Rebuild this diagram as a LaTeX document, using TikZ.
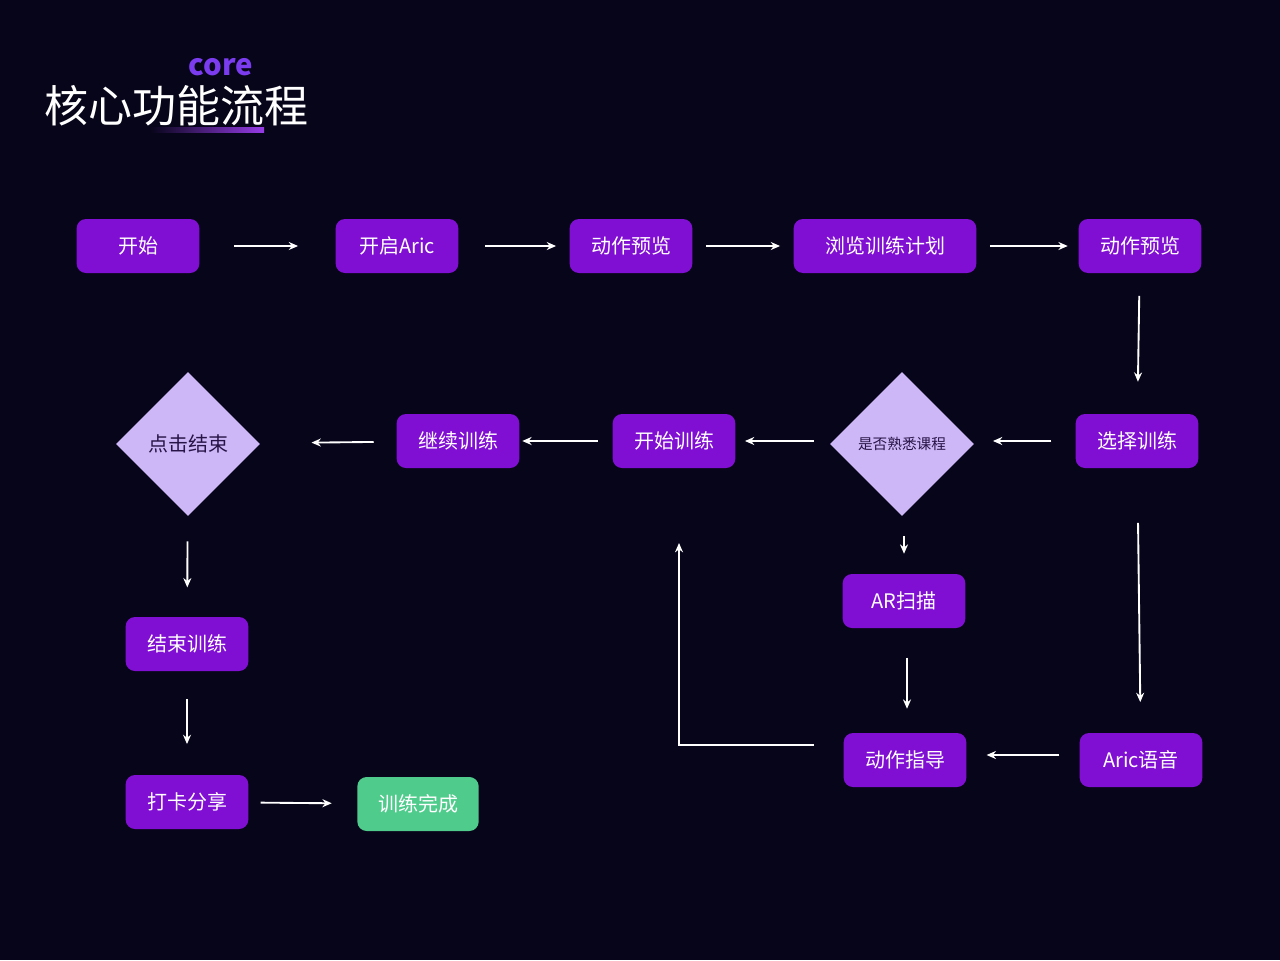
\documentclass[tikz,border=0pt]{standalone}
\usepackage{fontspec}
\newfontfamily\cjk{Noto Sans CJK SC}
\usetikzlibrary{arrows.meta,shapes.geometric}
\definecolor{bg}{HTML}{07051A}
\definecolor{box}{HTML}{810FD3}
\definecolor{dia}{HTML}{CDB7F7}
\definecolor{grn}{HTML}{4FCB8C}
\definecolor{corec}{HTML}{7B3CF0}
\begin{document}
\begin{tikzpicture}[x=0.75pt,y=-0.75pt,
 box/.style={draw=none,fill=box,rounded corners=7pt,minimum height=40.5pt,text=white,font=\cjk\fontsize{15}{15}\selectfont,inner sep=0pt},
 dia/.style={diamond,fill=dia,minimum width=108pt,minimum height=108pt,inner sep=0pt,text={rgb,255:red,40;green,20;blue,70}},
 ar/.style={draw=white,line width=1.4pt,-{Stealth[length=7pt,width=6pt]}}]
\fill[bg] (0,0) rectangle (1280,960);
\useasboundingbox (0,0) rectangle (1280,960);
% title
\node[anchor=west,text=white,font=\cjk\fontsize{33}{33}\selectfont,inner sep=0pt] (title) at (44,106) {核心功能流程};
\node[text=corec,font=\cjk\bfseries\fontsize{22}{22}\selectfont,inner sep=0pt] (core) at (221,67) {core};
\shade[left color=bg,right color={rgb,255:red,150;green,60;blue,230}] (150,127) rectangle (264,132);
% nodes
\node[box,minimum width=92pt] (n1) at (138,246) {开始};
\node[box,minimum width=92pt] (n2) at (397,246) {开启Aric};
\node[box,minimum width=92pt] (n3) at (631,246) {动作预览};
\node[box,minimum width=137pt] (n4) at (885,246) {浏览训练计划};
\node[box,minimum width=92pt] (n5) at (1140,246) {动作预览};
\node[box,minimum width=92pt] (n6) at (1137,441) {选择训练};
\node[dia,font=\cjk\fontsize{11}{11}\selectfont] (d1) at (902,444) {是否熟悉课程};
\node[box,minimum width=92pt] (n7) at (674,441) {开始训练};
\node[box,minimum width=92pt] (n8) at (458,441) {继续训练};
\node[dia,font=\cjk\fontsize{15}{15}\selectfont] (d2) at (188,444) {点击结束};
\node[box,minimum width=92pt] (n9) at (187,644) {结束训练};
\node[box,minimum width=92pt] (n10) at (187,802) {打卡分享};
\node[box,minimum width=91pt,fill=grn] (n11) at (418,804) {训练完成};
\node[box,minimum width=92pt] (n12) at (904,601) {AR扫描};
\node[box,minimum width=92pt] (n13) at (905,760) {动作指导};
\node[box,minimum width=92pt] (n14) at (1141,760) {Aric语音};
\coordinate (c1) at (679,745);
\coordinate (c2) at (679,543);
% arrows
\draw[ar,shorten <=26,shorten >=28] (n1) -- (n2);
\draw[ar,shorten <=20,shorten >=10] (n2) -- (n3);
\draw[ar,shorten <=10,shorten >=10] (n3) -- (n4);
\draw[ar,shorten <=10,shorten >=8] (n4) -- (n5);
\draw[ar,shorten <=17,shorten >=24] (n5) -- (n6);
\draw[ar,shorten <=18,shorten >=14] (n6.west) -- (d1.east |- n6.west);
\draw[ar,shorten <=12,shorten >=7] (d1.west |- n7.east) -- (n7);
\draw[ar,shorten <=11,shorten >=2] (n7) -- (n8);
\draw[ar,shorten <=17,shorten >=39] (n8) -- (d2);
\draw[ar,shorten <=19,shorten >=22] (d2) -- (n9);
\draw[ar,shorten <=21,shorten >=23] (n9) -- (n10);
\draw[ar,shorten <=9,shorten >=19] (n10) -- (n11);
\draw[ar,shorten <=41,shorten >=23] (n6) -- (n14);
\draw[ar,shorten <=15,shorten >=15] (n14.west |- 0,755) -- (n13.east |- 0,755);
\draw[ar,shorten <=15,shorten >=15] (d1.south -| n12) -- (n12);
\draw[ar,shorten <=22,shorten >=18] (n12.south -| 907,0) -- (n13.north -| 907,0);
\draw[draw=white,line width=1.4pt,-{Stealth[length=7pt,width=6pt]},shorten <=22] (n13.west |- c1) -- (c1) -- (c2);
\end{tikzpicture}
\end{document}
